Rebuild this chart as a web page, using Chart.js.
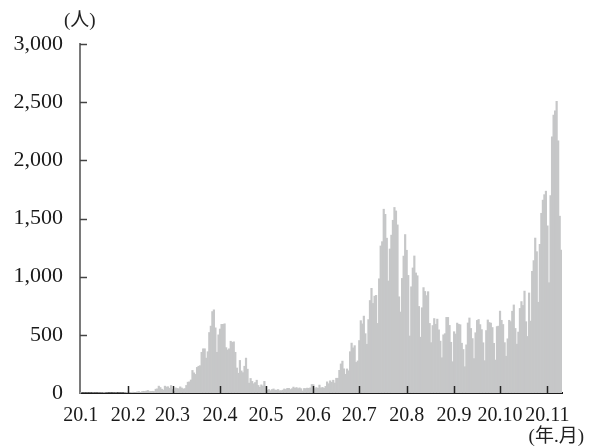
<!DOCTYPE html>
<html>
<head>
<meta charset="utf-8">
<script src="https://cdn.jsdelivr.net/npm/chart.js@4/dist/chart.umd.min.js"></script>
<style>
  html, body { margin: 0; padding: 0; background: #fff; }
  #wrap { width: 590px; height: 446px; position: relative; }
</style>
</head>
<body>
<div id="wrap"><canvas id="chart" width="590" height="446"></canvas></div>
<script>
// daily new cases, starting 2020-01-15
const jan = [1, 0, 0, 0, 0, 0, 0, 0, 1, 1, 0, 1, 1, 2, 1, 4, 2];
const feb = [1, 0, 0, 0, 0, 1, 1, 0, 0, 1, 0, 1, 3, 5, 8, 5, 6, 7, 5, 5, 10, 12, 6, 12, 15, 13, 18, 21, 13];
const mar = [14, 15, 13, 33, 36, 59, 47, 33, 26, 59, 52, 54, 41, 64, 29, 15, 44, 39, 37, 53, 43, 35, 38, 65, 93, 96, 112, 194, 173, 160, 220];
const apr = [230, 235, 350, 380, 380, 300, 355, 520, 575, 700, 715, 560, 350, 500, 550, 590, 590, 595, 390, 370, 380, 445, 435, 440, 350, 215, 170, 280, 190, 175];
const may = [230, 300, 205, 85, 125, 100, 80, 90, 110, 65, 50, 70, 60, 100, 55, 25, 30, 20, 30, 35, 25, 25, 30, 20, 20, 25, 35, 30, 40, 40, 30];
const jun = [37, 51, 41, 47, 38, 44, 37, 18, 39, 38, 42, 40, 44, 73, 72, 38, 47, 40, 68, 44, 48, 41, 57, 96, 80, 105, 92, 110, 86, 127];
const jul = [127, 195, 250, 274, 208, 161, 207, 191, 355, 429, 388, 407, 263, 276, 451, 622, 594, 661, 510, 419, 631, 795, 900, 770, 833, 839, 598, 982, 1264, 1301, 1580];
const aug = [1536, 1331, 963, 1238, 1357, 1485, 1595, 1565, 1445, 827, 696, 985, 1177, 1362, 1227, 1011, 490, 913, 1075, 1178, 1032, 1008, 744, 480, 733, 906, 873, 837, 871, 598, 433];
const sep = [580, 640, 591, 635, 543, 446, 303, 500, 510, 650, 650, 581, 436, 269, 527, 507, 601, 591, 587, 428, 374, 226, 414, 602, 645, 555, 468, 296, 518, 624];
const oct = [632, 588, 545, 432, 278, 537, 628, 606, 601, 563, 427, 283, 571, 575, 704, 625, 589, 433, 316, 466, 625, 614, 703, 757, 555, 420, 524, 727, 786, 753, 876];
const nov = [613, 486, 860, 618, 1046, 1138, 1332, 1215, 780, 1278, 1545, 1658, 1705, 1735, 1437, 948, 1697, 2201, 2388, 2425, 2508, 2168, 1520, 1228];

const monthTicks = ['20.1', '20.2', '20.3', '20.4', '20.5', '20.6', '20.7', '20.8', '20.9', '20.10', '20.11'];
const yTicks = [0, 500, 1000, 1500, 2000, 2500, 3000];

const cases = [].concat(jan, feb, mar, apr, may, jun, jul, aug, sep, oct, nov);
const days = cases.map((_, i) => new Date(Date.UTC(2020, 0, 15 + i)));
const labels = days.map(d => `${d.getUTCMonth() + 1}/${d.getUTCDate()}`);

const insideTicks = {
    id: 'insideTicks',
    afterDraw(chart) {
        const { ctx, scales: { x, y } } = chart;
        ctx.save();
        ctx.strokeStyle = '#444';
        ctx.lineWidth = 1.5;
        y.ticks.forEach((t, i) => {
            if (t.value === 0) return;
            const py = Math.round(y.getPixelForTick(i)) + 0.5;
            ctx.beginPath();
            ctx.moveTo(x.left, py);
            ctx.lineTo(x.left + 7, py);
            ctx.stroke();
        });
        ctx.strokeStyle = '#222';
        x.ticks.forEach((t, i) => {
            if (t.value === 0) return;
            const px = Math.round(x.getPixelForTick(i)) + 0.5;
            ctx.beginPath();
            ctx.moveTo(px, y.bottom);
            ctx.lineTo(px, y.bottom - 7);
            ctx.stroke();
        });
        ctx.fillStyle = '#222';
        ctx.font = '19px "Liberation Serif", "Noto Sans CJK JP"';
        ctx.textBaseline = 'middle';
        ctx.textAlign = 'left';
        ctx.fillText('(人)', 64, 21);
        ctx.textAlign = 'right';
        ctx.fillText('(年.月)', 584, 437);
        ctx.restore();
    }
};

Chart.defaults.font.family = '"Liberation Serif", serif';
Chart.defaults.font.size = 21;
Chart.defaults.color = '#1a1a1a';

new Chart(document.getElementById('chart'), {
    type: 'bar',
    data: {
        labels: labels,
        datasets: [{
            data: cases,
            backgroundColor: '#c6c7c8',
            borderWidth: 0,
            barPercentage: 1,
            categoryPercentage: 1
        }]
    },
    options: {
        responsive: false,
        animation: false,
        layout: { padding: { top: 44, right: 28, left: 0, bottom: 0 } },
        plugins: {
            legend: { display: false },
            tooltip: { enabled: false }
        },
        scales: {
            x: {
                grid: { display: false, drawTicks: false },
                border: { display: true, color: '#1a1a1a', width: 2 },
                afterBuildTicks: (scale) => {
                    scale.ticks = scale.ticks.filter(t => days[t.value].getUTCDate() === 15);
                },
                afterFit: (scale) => { scale.height = 53; },
                ticks: {
                    autoSkip: false,
                    maxRotation: 0,
                    padding: 11,
                    font: { size: 20 },
                    callback: (value) => monthTicks[days[value].getUTCMonth()]
                }
            },
            y: {
                min: 0,
                max: 3000,
                grid: { display: false, drawTicks: false },
                border: { display: true, color: '#7a7a7a', width: 2 },
                afterBuildTicks: (scale) => {
                    scale.ticks = yTicks.map(v => ({ value: v }));
                },
                afterFit: (scale) => { scale.width = 80; },
                ticks: {
                    padding: 17,
                    font: { size: 22 },
                    callback: (v) => v.toLocaleString('en-US')
                }
            }
        }
    },
    plugins: [insideTicks]
});
</script>
</body>
</html>
